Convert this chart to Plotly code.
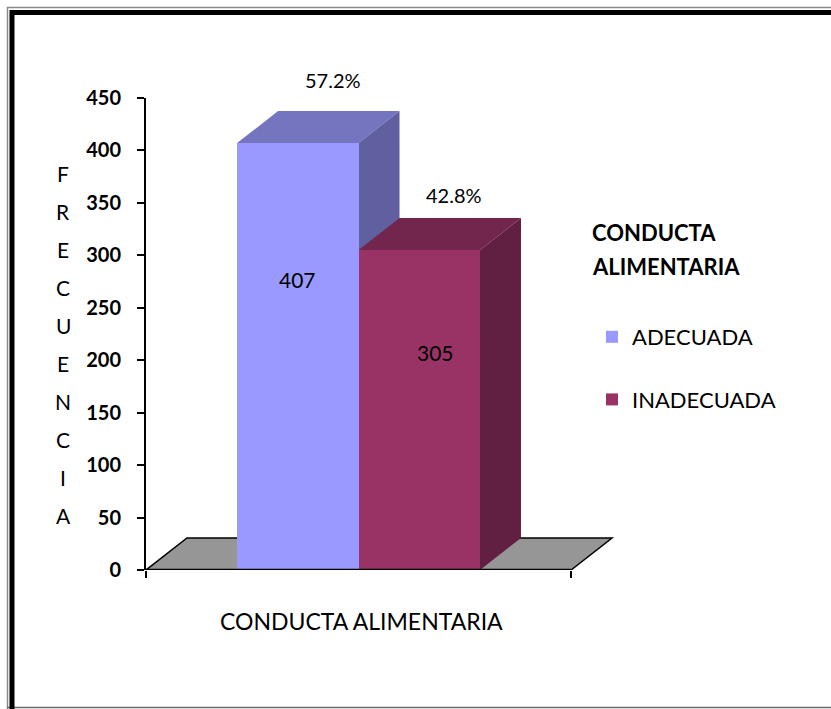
import plotly.graph_objects as go

# ---- data ----
categorias = ["ADECUADA", "INADECUADA"]
frecuencia = [407, 305]
y_ticks = [0, 50, 100, 150, 200, 250, 300, 350, 400, 450]
titulo_x = "CONDUCTA ALIMENTARIA"
titulo_y = "FRECUENCIA"
titulo_leyenda = ["CONDUCTA", "ALIMENTARIA"]

# ---- colours (front, top, side faces) ----
color_frente = ["#9999FF", "#993366"]
color_tapa = ["#7575BF", "#73264D"]
color_lado = ["#6060A0", "#611F41"]
color_piso = "#969696"

FONT = "Lato"
W, H = 831, 709
M_L, M_R, M_T, M_B = 146, 211, 98, 139
PLOT_W = W - M_L - M_R
PLOT_H = H - M_T - M_B

# bar layout in x units: gap, bar, bar, gap
ANCHO = 1.0
HUECO = 0.75
PISO = 2 * HUECO + ANCHO * len(frecuencia)
X_MAX = 3.903
Y_MAX = 450
# 3-D depth offset
DX = 41 / PLOT_W * X_MAX
DY = 32 / PLOT_H * Y_MAX

centros = [HUECO + ANCHO * (i + 0.5) for i in range(len(frecuencia))]
total = sum(frecuencia)
porcentajes = [f"{100 * v / total:.1f}%" for v in frecuencia]


def px_x(px):
    return (px - M_L) / PLOT_W


def px_y(py):
    return (H - M_B - py) / PLOT_H


fig = go.Figure()
for i, (cat, v) in enumerate(zip(categorias, frecuencia)):
    fig.add_trace(go.Bar(
        x=[centros[i]], y=[v], width=ANCHO, name=cat,
        marker=dict(color=color_frente[i], line=dict(width=0)),
        legendgroup=cat, hoverinfo="skip",
    ))

shapes = []
# floor
shapes.append(dict(
    type="path", xref="x", yref="y", layer="below",
    path=f"M0,0 L{PISO},0 L{PISO + DX},{DY} L{DX},{DY} Z",
    fillcolor=color_piso, line=dict(color="black", width=1.5),
))
# top and side faces of each bar
for i, v in enumerate(frecuencia):
    l = centros[i] - ANCHO / 2
    r = centros[i] + ANCHO / 2
    shapes.append(dict(
        type="path", xref="x", yref="y", layer="below",
        path=f"M{l},{v} L{r},{v} L{r + DX},{v + DY} L{l + DX},{v + DY} Z",
        fillcolor=color_tapa[i], line=dict(width=0),
    ))
    shapes.append(dict(
        type="path", xref="x", yref="y", layer="below",
        path=f"M{r},0 L{r + DX},{DY} L{r + DX},{v + DY} L{r},{v} Z",
        fillcolor=color_lado[i], line=dict(width=0),
    ))
# front edge of the floor
shapes.append(dict(type="line", xref="x", yref="y", layer="above",
                   x0=0, x1=PISO, y0=0, y1=0,
                   line=dict(color="black", width=2.5)))

# page frame
def linea(x0, y0, x1, y1, color, width):
    shapes.append(dict(type="line", xref="paper", yref="paper",
                       x0=px_x(x0), y0=px_y(y0), x1=px_x(x1), y1=px_y(y1),
                       line=dict(color=color, width=width)))

linea(7.5, 7, 7.5, 709, "#8a8a8a", 1.5)
linea(7, 7.5, 831, 7.5, "#8a8a8a", 1.5)
linea(7, 707.5, 831, 707.5, "#6a6a6a", 1.5)
linea(12, 10, 12, 709, "black", 5)
linea(10, 12.5, 831, 12.5, "black", 5)

annotations = []
# percentage labels above each bar
pct_shift = [31, 23]
for i, v in enumerate(frecuencia):
    annotations.append(dict(
        x=centros[i] + 0.29, y=v + DY, xref="x", yref="y",
        xanchor="center", yanchor="middle",
        text=porcentajes[i], showarrow=False, yshift=pct_shift[i],
        font=dict(family=FONT, size=20, color="black"),
    ))
# value labels on the bar fronts
val_dx = [0, 0.13]
for i, v in enumerate(frecuencia):
    annotations.append(dict(
        x=centros[i] + val_dx[i], y=v * 0.68, xref="x", yref="y",
        xanchor="center", yanchor="middle",
        text=str(v), showarrow=False,
        font=dict(family=FONT, size=21, color="black"),
    ))
# vertical y-axis title, one letter per line
for k, letra in enumerate(titulo_y):
    annotations.append(dict(
        x=px_x(63), y=px_y(173 + 38.1 * k), xref="paper", yref="paper",
        xanchor="center", yanchor="middle",
        text=letra, showarrow=False,
        font=dict(family=FONT, size=21, color="black"),
    ))
# x-axis title
annotations.append(dict(
    x=px_x(361), y=px_y(621), xref="paper", yref="paper",
    xanchor="center", yanchor="middle",
    text=titulo_x, showarrow=False,
    font=dict(family=FONT, size=23, color="black"),
))
# legend heading
for k, linea_txt in enumerate(titulo_leyenda):
    annotations.append(dict(
        x=px_x(590), y=px_y(232 + 34 * k), xref="paper", yref="paper",
        xanchor="left", yanchor="middle", text=f"<b>{linea_txt}</b>",
        showarrow=False,
        font=dict(family=FONT, size=22, color="black"),
    ))

fig.update_layout(
    width=W, height=H,
    margin=dict(l=M_L, r=M_R, t=M_T, b=M_B, pad=0),
    paper_bgcolor="white", plot_bgcolor="rgba(0,0,0,0)",
    showlegend=True,
    legend=dict(
        x=px_x(592), y=px_y(316), xanchor="left", yanchor="top",
        font=dict(family=FONT, size=22, color="black"),
        tracegroupgap=31, bgcolor="rgba(0,0,0,0)",
    ),
    xaxis=dict(
        range=[0, X_MAX], showgrid=False, zeroline=False, showline=False,
        tickvals=[0, PISO], ticks="outside", ticklen=7, tickwidth=1.5,
        tickcolor="black", showticklabels=False, fixedrange=True,
    ),
    yaxis=dict(
        range=[0, Y_MAX], tickvals=y_ticks, showgrid=False, zeroline=False,
        showline=True, linecolor="black", linewidth=2,
        ticks="outside", ticklen=7, tickwidth=2, tickcolor="black",
        ticklabelstandoff=12,
        tickfont=dict(family=FONT, size=20, color="black", weight="bold"),
        fixedrange=True,
    ),
    shapes=shapes,
    annotations=annotations,
    font=dict(family=FONT),
    bargap=0,
)

fig.write_html("out.html")
